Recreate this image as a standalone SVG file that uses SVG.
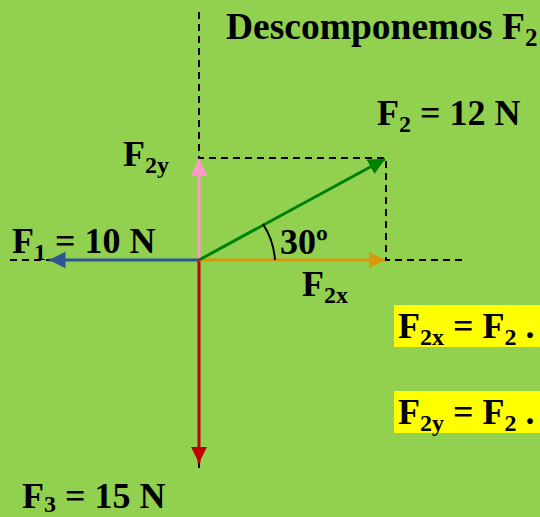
<svg xmlns="http://www.w3.org/2000/svg" width="540" height="517" viewBox="0 0 540 517">
<style>
.t{font-family:"Liberation Serif","Times New Roman",serif;font-weight:bold;font-size:36px;fill:#000}
.s{font-size:24px}
.d{stroke:#000;stroke-width:2;stroke-dasharray:7,5;fill:none}
.a{stroke-width:3;fill:none}
</style>
<defs>
<marker id="mG" viewBox="0 0 10 10" refX="10" refY="5" markerWidth="5.5" markerHeight="5.5" orient="auto" markerUnits="strokeWidth"><path d="M0,0L10,5L0,10z" fill="#008000"/></marker>
<marker id="mO" viewBox="0 0 10 10" refX="10" refY="5" markerWidth="5.5" markerHeight="5.5" orient="auto" markerUnits="strokeWidth"><path d="M0,0L10,5L0,10z" fill="#D4980A"/></marker>
<marker id="mP" viewBox="0 0 10 10" refX="10" refY="5" markerWidth="5.5" markerHeight="5.5" orient="auto" markerUnits="strokeWidth"><path d="M0,0L10,5L0,10z" fill="#FF99CC"/></marker>
<marker id="mB" viewBox="0 0 10 10" refX="10" refY="5" markerWidth="5.5" markerHeight="5.5" orient="auto" markerUnits="strokeWidth"><path d="M0,0L10,5L0,10z" fill="#2F5597"/></marker>
<marker id="mR" viewBox="0 0 10 10" refX="10" refY="5" markerWidth="5.5" markerHeight="5.5" orient="auto" markerUnits="strokeWidth"><path d="M0,0L10,5L0,10z" fill="#C00000"/></marker>
</defs>
<rect width="540" height="517" fill="#92D050"/>
<g id="guides">
<path class="d" d="M199,12V158H386V260H462"/>
<path class="d" d="M10,260H50"/>
<path d="M199,462V468" stroke="#000" stroke-width="2"/>
</g>
<g id="connectors">
<line class="a" x1="199" y1="260" x2="199" y2="159" stroke="#FF99CC" marker-end="url(#mP)"/>
<line class="a" x1="199" y1="260" x2="49" y2="260" stroke="#2F5597" marker-end="url(#mB)"/>
<line class="a" x1="199" y1="260" x2="199" y2="463" stroke="#C00000" marker-end="url(#mR)"/>
<line class="a" x1="199" y1="260" x2="385" y2="260" stroke="#D4980A" marker-end="url(#mO)"/>
<line class="a" x1="199" y1="260" x2="385" y2="159" stroke="#008000" marker-end="url(#mG)"/>
<path d="M263,224A75,75 0 0 1 275,260" stroke="#000" stroke-width="2" fill="none"/>
</g>
<g id="title"><text class="t" x="226" y="39" style="font-size:37.5px">Descomponemos F<tspan style="font-size:25px" dy="7">2</tspan></text></g>
<g id="F2"><text class="t" x="377" y="125">F<tspan class="s" dy="7">2</tspan><tspan dy="-7"> = 12 N</tspan></text></g>
<g id="F2y"><text class="t" x="123" y="166">F<tspan class="s" dy="7">2y</tspan></text></g>
<g id="F1"><text class="t" x="12" y="253">F<tspan class="s" dy="7">1</tspan><tspan dy="-7"> = 10 N</tspan></text></g>
<g id="angle"><text class="t" x="280" y="254">30º</text></g>
<g id="F2x"><text class="t" x="302" y="296">F<tspan class="s" dy="7">2x</tspan></text></g>
<g id="eq1"><rect x="394" y="305" width="146" height="42" fill="#FFFF00"/><text class="t" x="398" y="338">F<tspan class="s" dy="7">2x</tspan><tspan dy="-7"> = F</tspan><tspan class="s" dy="7">2</tspan><tspan dy="-7"> .</tspan></text></g>
<g id="eq2"><rect x="394" y="391" width="146" height="42" fill="#FFFF00"/><text class="t" x="398" y="424">F<tspan class="s" dy="7">2y</tspan><tspan dy="-7"> = F</tspan><tspan class="s" dy="7">2</tspan><tspan dy="-7"> .</tspan></text></g>
<g id="F3"><text class="t" x="22" y="508">F<tspan class="s" dy="4">3</tspan><tspan dy="-4"> = 15 N</tspan></text></g>
</svg>
